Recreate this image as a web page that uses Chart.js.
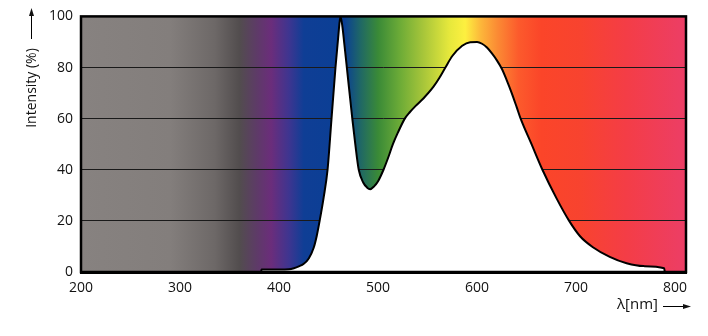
<!DOCTYPE html>
<html>
<head>
<meta charset="utf-8">
<script src="https://cdn.jsdelivr.net/npm/chart.js@4"></script>
<style>
  html, body { margin: 0; padding: 0; background: #fff; }
  #wrap { width: 708px; height: 336px; }
</style>
</head>
<body>
<div id="wrap"><canvas id="spectrum"></canvas></div>
<script>
// wavelength (nm) and relative intensity (%)
const wavelengths = [382, 382.3, 390, 400, 410, 415, 420, 425, 430, 435, 438, 441, 445, 449, 453, 457, 460, 462,
  464, 466, 468.5, 474, 477, 480.5, 485, 489, 492, 496, 500, 505.5, 510, 515, 520, 527, 532, 538, 546, 556,
  562, 568, 575, 585, 593, 600, 605, 610, 615, 620, 625, 630, 635, 640, 644, 655, 666, 680, 693, 704, 717,
  734, 751, 768, 789, 789.5];
const intensity = [0, 1, 1, 1, 1.1, 1.5, 2.2, 3.2, 5.3, 9.5, 14, 20, 29, 40, 60, 80, 93, 100,
  96, 89, 80, 60, 50, 40, 35, 33, 32.4, 33.5, 35.5, 40, 44.5, 50, 54.5, 60, 62.5, 65, 68, 72.5,
  76, 80, 84.5, 88.5, 89.9, 90, 89.3, 87.8, 85.5, 82.8, 79.5, 75, 70, 64.5, 60, 50, 40, 29, 20, 14, 9.7,
  5.9, 3.4, 2.3, 1.5, 0];
const xTicks = [200, 300, 400, 500, 600, 700, 800];
const yTicks = [0, 20, 40, 60, 80, 100];

// colour of the visible spectrum behind the curve
const spectrumStops = [
  [200, '#878280'], [290, '#837e7c'], [335, '#6d6867'], [360, '#524d4e'],
  [378, '#5e3a68'], [392, '#6b2d7b'], [410, '#3e3590'], [425, '#0f3e95'],
  [466, '#0a3f95'], [482, '#1f6766'], [500, '#3a8a37'], [522, '#6cab37'],
  [546, '#a8c63a'], [572, '#e6e83c'], [588, '#fdf040'], [604, '#fcb63a'],
  [620, '#fb8c34'], [642, '#fc5a2c'], [665, '#fb4529'], [705, '#f8432f'],
  [750, '#f43d46'], [811, '#ec3e66']
];

const points = wavelengths.map((w, i) => ({ x: w, y: intensity[i] }));
const labelFont = { family: 'Open Sans', size: 14 };

const backdrop = {
  id: 'backdrop',
  beforeDraw(chart) {
    const { ctx, chartArea: a, scales } = chart;
    const x0 = scales.x.getPixelForValue(200), x1 = scales.x.getPixelForValue(811);
    const g = ctx.createLinearGradient(x0, 0, x1, 0);
    spectrumStops.forEach(([w, c]) => g.addColorStop((w - 200) / 611, c));
    ctx.save();
    ctx.fillStyle = g;
    ctx.fillRect(a.left, a.top, a.right - a.left, a.bottom - a.top);
    ctx.restore();
  },
  afterDraw(chart) {
    const { ctx, chartArea: a } = chart;
    ctx.save();
    ctx.strokeStyle = '#000';
    ctx.lineWidth = 2.5;
    ctx.strokeRect(a.left, a.top, a.right - a.left, a.bottom - a.top);
    ctx.fillRect(a.left - 1, a.bottom - 1, a.right - a.left + 2, 3);

    ctx.fillStyle = '#111';
    ctx.font = '14px "Open Sans"';
    // y axis title with arrow
    ctx.save();
    ctx.translate(36, 88);
    ctx.rotate(-Math.PI / 2);
    ctx.textAlign = 'center';
    ctx.textBaseline = 'alphabetic';
    ctx.fillText('Intensity (%)', 0, 0);
    ctx.restore();
    ctx.lineWidth = 1;
    ctx.beginPath();
    ctx.moveTo(31.5, 39); ctx.lineTo(31.5, 14);
    ctx.stroke();
    ctx.beginPath();
    ctx.moveTo(31.5, 8); ctx.lineTo(29, 16); ctx.lineTo(34, 16); ctx.closePath();
    ctx.fill();

    // x axis title with arrow
    ctx.font = '15px "Open Sans"';
    ctx.textAlign = 'left';
    ctx.textBaseline = 'middle';
    ctx.fillText('λ[nm]', 617, 305);
    ctx.beginPath();
    ctx.moveTo(663, 306.5); ctx.lineTo(684, 306.5);
    ctx.stroke();
    ctx.beginPath();
    ctx.moveTo(691, 306.5); ctx.lineTo(683, 304); ctx.lineTo(683, 309); ctx.closePath();
    ctx.fill();
    ctx.restore();
  }
};

new Chart(document.getElementById('spectrum'), {
  type: 'line',
  data: {
    datasets: [{
      data: points,
      borderColor: '#000',
      borderWidth: 2,
      backgroundColor: '#fff',
      fill: 'origin',
      pointRadius: 0,
      cubicInterpolationMode: 'monotone'
    }]
  },
  options: {
    responsive: true,
    maintainAspectRatio: false,
    animation: false,
    layout: { padding: { left: 0, top: 11, right: 22, bottom: 0 } },
    plugins: { legend: { display: false }, tooltip: { enabled: false } },
    scales: {
      x: {
        type: 'linear',
        min: 200,
        max: 811,
        afterBuildTicks: (s) => { s.ticks = xTicks.map(v => ({ value: v })); },
        afterFit: (s) => { s.height = 64; },
        grid: { display: false, drawTicks: false },
        border: { display: false },
        ticks: { color: '#111', font: labelFont, padding: 8, maxRotation: 0, callback: (v) => String(v) }
      },
      y: {
        min: 0,
        max: 100,
        afterBuildTicks: (s) => { s.ticks = yTicks.map(v => ({ value: v })); },
        afterFit: (s) => { s.width = 81; },
        grid: { color: '#1a1a1a', lineWidth: 1, drawTicks: false },
        border: { display: false },
        ticks: { color: '#111', font: labelFont, padding: 8, callback: (v) => String(v) }
      }
    }
  },
  plugins: [backdrop]
});
</script>
</body>
</html>
